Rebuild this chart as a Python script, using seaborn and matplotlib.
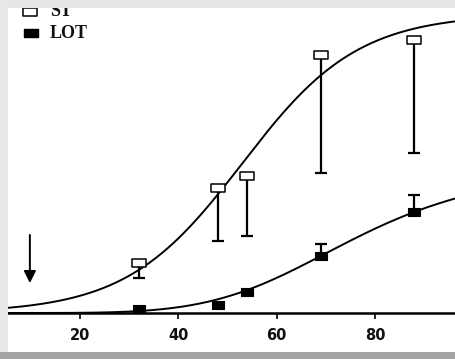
import numpy as np
import pandas as pd
import seaborn as sns
import matplotlib.pyplot as plt
from matplotlib.lines import Line2D
from matplotlib.patches import Rectangle
from matplotlib.path import Path

# Dose (x) and response (%) for the two groups
doses = [32, 48, 54, 69, 88]
st_mean = [16.7, 41.8, 45.8, 86.3, 91.3]
st_err_low = [5.0, 17.7, 20.0, 39.5, 37.8]
lot_mean = [1.3, 2.7, 7.0, 19.1, 33.8]
lot_err_high = [0.0, 0.0, 0.0, 4.0, 5.7]
x_ticks = [20, 40, 60, 80]
arrow_dose = 9.8

# Fitted dose-response curve parameters
st_fit = dict(top=100.0, mid=53.0, slope=11.8)   # logistic
lot_fit = dict(top=50.0, k=76.0, n=5.0)          # Hill

X_LIM = (5.35, 96.3)
Y_LIM = (0.0, 102.0)

W, H = 455, 359


def fx(px):
    return px / W


def fy(py):
    return 1 - py / H


def logistic(x, top, mid, slope):
    return top / (1 + np.exp(-(x - mid) / slope))


def hill(x, top, k, n):
    return top * x ** n / (k ** n + x ** n)


sns.set_theme(style="white")
plt.rcParams["font.family"] = ["DejaVu Sans"]

fig = plt.figure(figsize=(W / 100, H / 100), dpi=100)
fig.patch.set_facecolor("white")
ax = fig.add_axes([fx(8), fy(313), fx(455) - fx(8), fy(8) - fy(313)])
ax.set_facecolor("none")

grid = np.linspace(X_LIM[0], X_LIM[1], 400)
curves = pd.DataFrame({
    "dose": np.concatenate([grid, grid]),
    "resp": np.concatenate([logistic(grid, **st_fit), hill(grid, **lot_fit)]),
    "group": ["ST"] * len(grid) + ["LOT"] * len(grid),
})
sns.lineplot(data=curves, x="dose", y="resp", units="group", estimator=None,
             color="black", linewidth=1.4, ax=ax, legend=False, zorder=2)

# error bars (one-sided)
st_e = np.array(st_err_low)
ax.errorbar(doses, st_mean, yerr=[st_e, np.zeros_like(st_e)], fmt="none",
            ecolor="black", elinewidth=1.6, capsize=4.6, capthick=1.6, zorder=3)
lot_e = np.array(lot_err_high)
m = lot_e > 0
ax.errorbar(np.array(doses)[m], np.array(lot_mean)[m],
            yerr=[np.zeros(m.sum()), lot_e[m]], fmt="none",
            ecolor="black", elinewidth=1.6, capsize=4.6, capthick=1.6, zorder=3)

# slightly wide square markers
box = Path([(-1, -0.68), (1, -0.68), (1, 0.68), (-1, 0.68), (-1, -0.68)],
           [Path.MOVETO, Path.LINETO, Path.LINETO, Path.LINETO, Path.CLOSEPOLY])

pts = pd.DataFrame({"dose": doses, "st": st_mean, "lot": lot_mean})
sns.scatterplot(data=pts, x="dose", y="st", marker=box, s=88, facecolor="white",
                edgecolor="black", linewidth=1.1, ax=ax, zorder=4, clip_on=False)
sns.scatterplot(data=pts, x="dose", y="lot", marker=box, s=84, facecolor="black",
                edgecolor="black", linewidth=0.8, ax=ax, zorder=4, clip_on=False)

ax.annotate("", xy=(arrow_dose, 10.0), xytext=(arrow_dose, 26.1),
            arrowprops=dict(arrowstyle="-|>,head_width=0.3,head_length=0.6",
                            color="black", lw=1.4, shrinkA=0, shrinkB=0))

ax.set_xlim(*X_LIM)
ax.set_ylim(*Y_LIM)
ax.set_xticks(x_ticks)
ax.set_xticklabels([str(t) for t in x_ticks], fontweight="bold", fontsize=10.5,
                   color="#111111")
ax.set_yticks([])
ax.set_xlabel("")
ax.set_ylabel("")
for side in ("top", "left", "right"):
    ax.spines[side].set_visible(False)
ax.spines["bottom"].set_color("black")
ax.spines["bottom"].set_linewidth(1.8)
ax.tick_params(axis="x", direction="out", length=4, width=1.2, pad=7,
               color="black", bottom=True)

# legend
serif = ["Liberation Serif", "DejaVu Serif"]
fig.add_artist(Line2D([fx(30)], [fy(12)], marker=box, markersize=9.4,
                      markerfacecolor="white", markeredgecolor="black",
                      markeredgewidth=1.1, linestyle="none"))
fig.add_artist(Line2D([fx(31)], [fy(33)], marker=box, markersize=9.4,
                      markerfacecolor="black", markeredgecolor="black",
                      linestyle="none"))
fig.text(fx(50), fy(12), "ST", family=serif, fontweight="bold", fontsize=13,
         va="center", ha="left", color="#111111")
fig.text(fx(50), fy(33), "LOT", family=serif, fontweight="bold", fontsize=13,
         va="center", ha="left", color="#111111")

# page frame around the panel
fig.add_artist(Rectangle((0, fy(8)), 1, 1 - fy(8), transform=fig.transFigure,
                         facecolor="#e6e6e6", edgecolor="none", zorder=10))
fig.add_artist(Rectangle((0, fy(352)), fx(8), fy(0) - fy(352),
                         transform=fig.transFigure, facecolor="#e9e9e9",
                         edgecolor="none", zorder=10))
fig.add_artist(Rectangle((0, 0), 1, fy(352), transform=fig.transFigure,
                         facecolor="#a4a4a4", edgecolor="none", zorder=10))

fig.savefig("out.png", dpi=100)
